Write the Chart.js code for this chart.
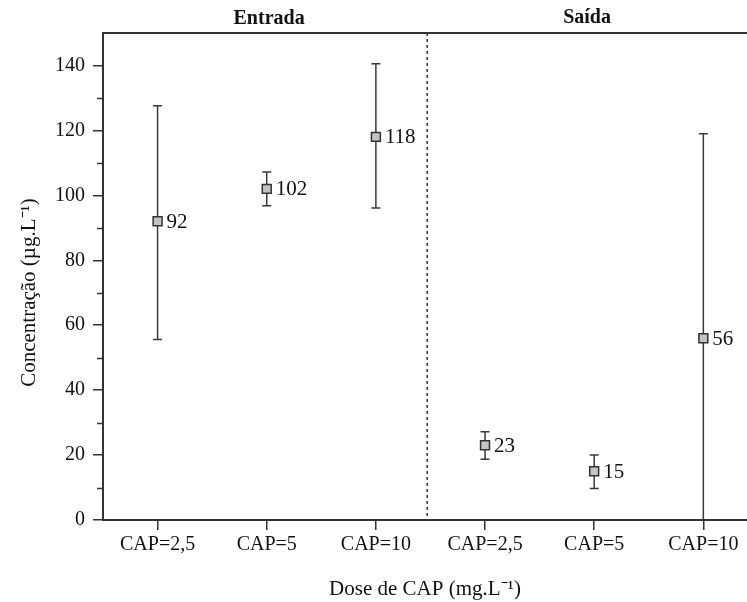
<!DOCTYPE html>
<html>
<head>
<meta charset="utf-8">
<script src="https://cdn.jsdelivr.net/npm/chart.js@4.4.0/dist/chart.umd.min.js"></script>
<style>
    html, body { margin: 0; padding: 0; background: #fff; overflow: hidden; }
    #wrap { width: 747px; height: 602px; }
</style>
</head>
<body>
<div id="wrap"><canvas id="chart"></canvas></div>
<script>
const categories = ['CAP=2,5', 'CAP=5', 'CAP=10', 'CAP=2,5', 'CAP=5', 'CAP=10'];
const groups = ['Entrada', 'Saída'];
const means = [92, 102, 118, 23, 15, 56];
const errLow = [55.6, 96.8, 96.1, 18.7, 9.7, 0];
const errHigh = [127.6, 107.2, 140.5, 27.2, 20, 119];
const yTicks = [0, 20, 40, 60, 80, 100, 120, 140];
const yMinorTicks = [10, 30, 50, 70, 90, 110, 130];
const separatorAt = 2.47;
const yTitle = 'Concentração (µg.L⁻¹)';
const xTitle = 'Dose de CAP (mg.L⁻¹)';

const FONT = 'Liberation Serif';
const INK = '#333';
const TEXT = '#111';

/* ===================================================== */
/* DECORATIONS                                             */
/* ===================================================== */

const decorations = {
    id: 'decorations',
    beforeDatasetsDraw(chart) {
        const { ctx, chartArea: a, scales: { x, y } } = chart;
        ctx.save();

        // top frame
        ctx.strokeStyle = INK;
        ctx.lineWidth = 2;
        ctx.beginPath();
        ctx.moveTo(a.left, a.top);
        ctx.lineTo(a.right, a.top);
        ctx.stroke();

        // minor ticks on y
        ctx.lineWidth = 1.5;
        yMinorTicks.forEach(v => {
            const py = Math.round(y.getPixelForValue(v)) + 0.5;
            ctx.beginPath();
            ctx.moveTo(a.left - 6, py);
            ctx.lineTo(a.left, py);
            ctx.stroke();
        });

        // dashed separator
        const sx = x.getPixelForValue(separatorAt);
        ctx.setLineDash([3, 3]);
        ctx.beginPath();
        ctx.moveTo(sx, a.top);
        ctx.lineTo(sx, a.bottom);
        ctx.stroke();
        ctx.setLineDash([]);

        // error bars
        ctx.strokeStyle = '#3a3a3a';
        ctx.lineWidth = 1.5;
        means.forEach((m, i) => {
            const px = x.getPixelForValue(i);
            const top = y.getPixelForValue(errHigh[i]);
            const bot = y.getPixelForValue(errLow[i]);
            ctx.beginPath();
            ctx.moveTo(px, top);
            ctx.lineTo(px, bot);
            ctx.moveTo(px - 4.5, top);
            ctx.lineTo(px + 4.5, top);
            if (errLow[i] > 0) {
                ctx.moveTo(px - 4.5, bot);
                ctx.lineTo(px + 4.5, bot);
            }
            ctx.stroke();
        });

        // group titles
        ctx.fillStyle = TEXT;
        ctx.font = `bold 20px "${FONT}"`;
        ctx.textAlign = 'center';
        ctx.textBaseline = 'middle';
        ctx.fillText(groups[0], (a.left + sx) / 2 + 4, 19);
        ctx.fillText(groups[1], (sx + a.right) / 2, 18);

        // y title
        ctx.font = `21px "${FONT}"`;
        ctx.translate(29, (a.top + a.bottom) / 2 + 16);
        ctx.rotate(-Math.PI / 2);
        ctx.fillText(yTitle, 0, 0);

        ctx.restore();
    },
    afterDatasetsDraw(chart) {
        const { ctx, scales: { x, y } } = chart;
        ctx.save();
        ctx.fillStyle = TEXT;
        ctx.font = `21px "${FONT}"`;
        ctx.textAlign = 'left';
        ctx.textBaseline = 'middle';
        means.forEach((m, i) => {
            ctx.fillText(String(m), x.getPixelForValue(i) + 9, y.getPixelForValue(m) + 1);
        });
        ctx.restore();
    }
};

/* ===================================================== */
/* CHART                                                   */
/* ===================================================== */

new Chart(document.getElementById('chart'), {
    type: 'scatter',
    data: {
        datasets: [{
            data: means.map((m, i) => ({ x: i, y: m })),
            pointStyle: 'rect',
            pointRadius: 6.3,
            pointHoverRadius: 6.3,
            backgroundColor: '#c4c4c4',
            borderColor: INK,
            borderWidth: 1.5
        }]
    },
    options: {
        responsive: true,
        maintainAspectRatio: false,
        animation: false,
        events: [],
        layout: { autoPadding: false, padding: { top: 33, left: 0, right: 0, bottom: 0 } },
        plugins: {
            legend: { display: false },
            tooltip: { enabled: false }
        },
        scales: {
            x: {
                type: 'linear',
                min: -0.5,
                max: 5.4,
                afterBuildTicks: s => { s.ticks = categories.map((c, i) => ({ value: i })); },
                afterFit: s => {
                    s.height = 82;
                    s.paddingLeft = 0;
                    s.paddingRight = 0;
                },
                ticks: {
                    callback: v => categories[v],
                    color: TEXT,
                    padding: 3,
                    maxRotation: 0,
                    font: { family: FONT, size: 20 }
                },
                grid: { drawOnChartArea: false, tickLength: 10, color: INK, lineWidth: 1.5 },
                border: { color: INK, width: 2 },
                title: {
                    display: true,
                    text: xTitle,
                    color: TEXT,
                    padding: { top: 0, bottom: 0 },
                    font: { family: FONT, size: 21 }
                }
            },
            y: {
                min: 0,
                max: 150,
                afterBuildTicks: s => { s.ticks = yTicks.map(v => ({ value: v })); },
                afterFit: s => {
                    s.width = 103;
                    s.paddingTop = 0;
                    s.paddingBottom = 0;
                },
                ticks: {
                    color: TEXT,
                    padding: 8,
                    font: { family: FONT, size: 20 }
                },
                grid: { drawOnChartArea: false, tickLength: 10, color: INK, lineWidth: 1.5 },
                border: { color: INK, width: 2 }
            }
        }
    },
    plugins: [decorations]
});
</script>
</body>
</html>
